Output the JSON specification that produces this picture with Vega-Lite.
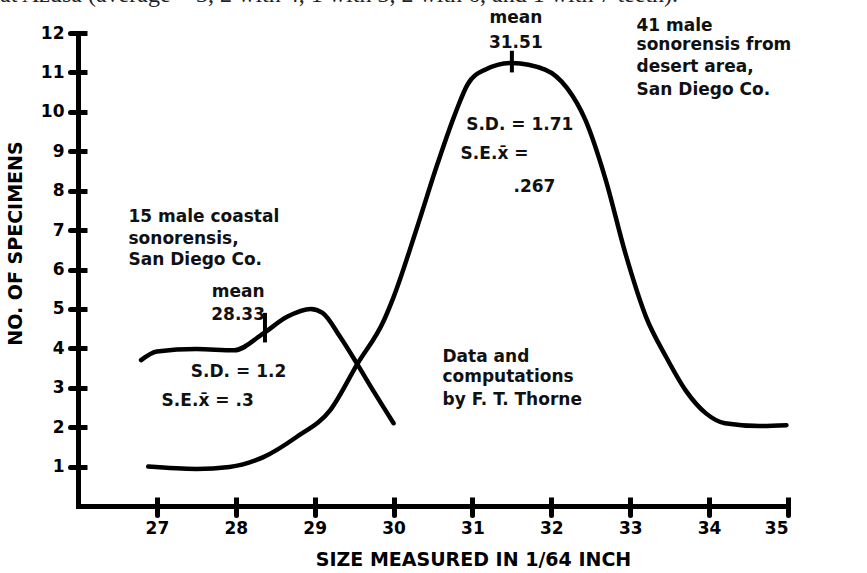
{
  "$schema": "https://vega.github.io/schema/vega-lite/v6.json",
  "autosize": "none",
  "width": 710,
  "height": 473,
  "padding": {"left": 78, "top": 33, "right": 79, "bottom": 67},
  "background": "white",
  "title": {
    "text": "at Azusa (average = 3, 2 with 4, 1 with 3, 2 with 6, and 1 with 7 teeth).",
    "anchor": "start",
    "frame": "group",
    "baseline": "alphabetic",
    "offset": 3,
    "dx": -78,
    "dy": 20,
    "font": "Liberation Serif",
    "fontSize": 24,
    "fontWeight": "normal",
    "color": "#222"
  },
  "config": {"view": {"stroke": null}, "font": "DejaVu Sans"},
  "datasets": {
    "curves": [
      {"series": "coastal", "size": 26.8, "count": 3.7},
      {"series": "coastal", "size": 27.0, "count": 3.92},
      {"series": "coastal", "size": 27.5, "count": 3.98},
      {"series": "coastal", "size": 27.98, "count": 3.95},
      {"series": "coastal", "size": 28.35, "count": 4.38},
      {"series": "coastal", "size": 28.65, "count": 4.8},
      {"series": "coastal", "size": 28.95, "count": 5.0},
      {"series": "coastal", "size": 29.1, "count": 4.9},
      {"series": "coastal", "size": 29.32, "count": 4.3},
      {"series": "coastal", "size": 29.54, "count": 3.6},
      {"series": "coastal", "size": 29.75, "count": 2.9},
      {"series": "coastal", "size": 30.0, "count": 2.1},
      {"series": "desert", "size": 26.89, "count": 1.0},
      {"series": "desert", "size": 27.5, "count": 0.94},
      {"series": "desert", "size": 27.92, "count": 0.99},
      {"series": "desert", "size": 28.35, "count": 1.24},
      {"series": "desert", "size": 28.77, "count": 1.75},
      {"series": "desert", "size": 29.2, "count": 2.44},
      {"series": "desert", "size": 29.54, "count": 3.6},
      {"series": "desert", "size": 29.88, "count": 4.72},
      {"series": "desert", "size": 30.0, "count": 5.3},
      {"series": "desert", "size": 30.3, "count": 7.08},
      {"series": "desert", "size": 30.56, "count": 8.7},
      {"series": "desert", "size": 30.79, "count": 10.0},
      {"series": "desert", "size": 30.94, "count": 10.7},
      {"series": "desert", "size": 31.16, "count": 11.07},
      {"series": "desert", "size": 31.5, "count": 11.24},
      {"series": "desert", "size": 31.92, "count": 11.07},
      {"series": "desert", "size": 32.2, "count": 10.6},
      {"series": "desert", "size": 32.43, "count": 9.8},
      {"series": "desert", "size": 32.69, "count": 8.27},
      {"series": "desert", "size": 32.94, "count": 6.4},
      {"series": "desert", "size": 33.2, "count": 4.8},
      {"series": "desert", "size": 33.45, "count": 3.8},
      {"series": "desert", "size": 33.7, "count": 2.94},
      {"series": "desert", "size": 33.96, "count": 2.35},
      {"series": "desert", "size": 34.2, "count": 2.1},
      {"series": "desert", "size": 34.64, "count": 2.03},
      {"series": "desert", "size": 34.98, "count": 2.05}
    ],
    "meanTicks": [
      {"series": "coastal", "size": 28.37, "low": 4.15, "high": 4.9},
      {"series": "desert", "size": 31.5, "low": 11.0, "high": 11.55}
    ],
    "notesLeft": [
      {"size": 26.64, "count": 7.21, "label": "15 male coastal"},
      {"size": 26.64, "count": 6.65, "label": "sonorensis,"},
      {"size": 26.64, "count": 6.12, "label": "San Diego Co."},
      {"size": 27.43, "count": 3.27, "label": "S.D. = 1.2"},
      {"size": 27.06, "count": 2.54, "label": "S.E.x̄ = .3"},
      {"size": 30.92, "count": 9.54, "label": "S.D. = 1.71"},
      {"size": 30.85, "count": 8.8, "label": "S.E.x̄ ="},
      {"size": 31.52, "count": 7.97, "label": ".267"},
      {"size": 33.08, "count": 12.06, "label": "41 male"},
      {"size": 33.08, "count": 11.57, "label": "sonorensis from"},
      {"size": 33.08, "count": 11.02, "label": "desert area,"},
      {"size": 33.08, "count": 10.43, "label": "San Diego Co."},
      {"size": 30.62, "count": 3.65, "label": "Data and"},
      {"size": 30.62, "count": 3.15, "label": "computations"},
      {"size": 30.62, "count": 2.56, "label": "by F. T. Thorne"}
    ],
    "notesCenter": [
      {"size": 28.03, "count": 5.3, "label": "mean"},
      {"size": 28.03, "count": 4.72, "label": "28.33"},
      {"size": 31.55, "count": 12.26, "label": "mean"},
      {"size": 31.55, "count": 11.62, "label": "31.51"}
    ]
  },
  "layer": [
    {
      "data": {"name": "curves"},
      "mark": {"type": "line", "interpolate": "monotone", "strokeWidth": 4.5, "color": "black", "strokeCap": "round", "strokeJoin": "round"},
      "encoding": {
        "x": {
          "field": "size", "type": "quantitative",
          "scale": {"domain": [26, 35], "nice": false, "zero": false},
          "axis": {
            "title": "SIZE MEASURED IN 1/64 INCH",
            "values": [27, 28, 29, 30, 31, 32, 33, 34, 35],
            "format": "d",
            "domainWidth": 5, "domainColor": "black", "domainCap": "square",
            "tickColor": "black", "tickWidth": 5, "tickSize": 9, "tickCap": "round",
            "grid": true, "gridColor": "black", "gridWidth": 5, "gridDash": [0, 464, 9, 100],
            "labelFont": "DejaVu Sans", "labelFontSize": 17, "labelFontWeight": "bold", "labelColor": "black", "labelPadding": 5,
            "titleFont": "DejaVu Sans", "titleFontSize": 19, "titleFontWeight": "bold", "titleColor": "black", "titlePadding": 14, "titleX": 395
          }
        },
        "y": {
          "field": "count", "type": "quantitative",
          "scale": {"domain": [0, 12], "nice": false},
          "axis": {
            "title": "NO. OF SPECIMENS",
            "values": [1, 2, 3, 4, 5, 6, 7, 8, 9, 10, 11, 12],
            "format": "d",
            "domainWidth": 5, "domainColor": "black", "domainCap": "square",
            "tickColor": "black", "tickWidth": 5, "tickSize": 8, "tickCap": "round",
            "grid": true, "gridColor": "black", "gridWidth": 5, "gridDash": [9, 2000],
            "labelFont": "DejaVu Sans", "labelFontSize": 17, "labelFontWeight": "bold", "labelColor": "black", "labelPadding": 6,
            "titleFont": "DejaVu Sans", "titleFontSize": 19, "titleFontWeight": "bold", "titleColor": "black",
            "titleX": -63, "titleY": 210, "titleBaseline": "middle", "titleAlign": "center"
          }
        },
        "detail": {"field": "series"}
      }
    },
    {
      "data": {"name": "meanTicks"},
      "mark": {"type": "rule", "strokeWidth": 4, "color": "black"},
      "encoding": {
        "x": {"field": "size", "type": "quantitative"},
        "y": {"field": "low", "type": "quantitative"},
        "y2": {"field": "high"}
      }
    },
    {
      "data": {"name": "notesLeft"},
      "mark": {"type": "text", "align": "left", "baseline": "alphabetic", "font": "DejaVu Sans", "fontSize": 17, "fontWeight": "bold", "color": "#111"},
      "encoding": {
        "x": {"field": "size", "type": "quantitative"},
        "y": {"field": "count", "type": "quantitative"},
        "text": {"field": "label"}
      }
    },
    {
      "data": {"name": "notesCenter"},
      "mark": {"type": "text", "align": "center", "baseline": "alphabetic", "font": "DejaVu Sans", "fontSize": 17, "fontWeight": "bold", "color": "#111"},
      "encoding": {
        "x": {"field": "size", "type": "quantitative"},
        "y": {"field": "count", "type": "quantitative"},
        "text": {"field": "label"}
      }
    }
  ]
}
